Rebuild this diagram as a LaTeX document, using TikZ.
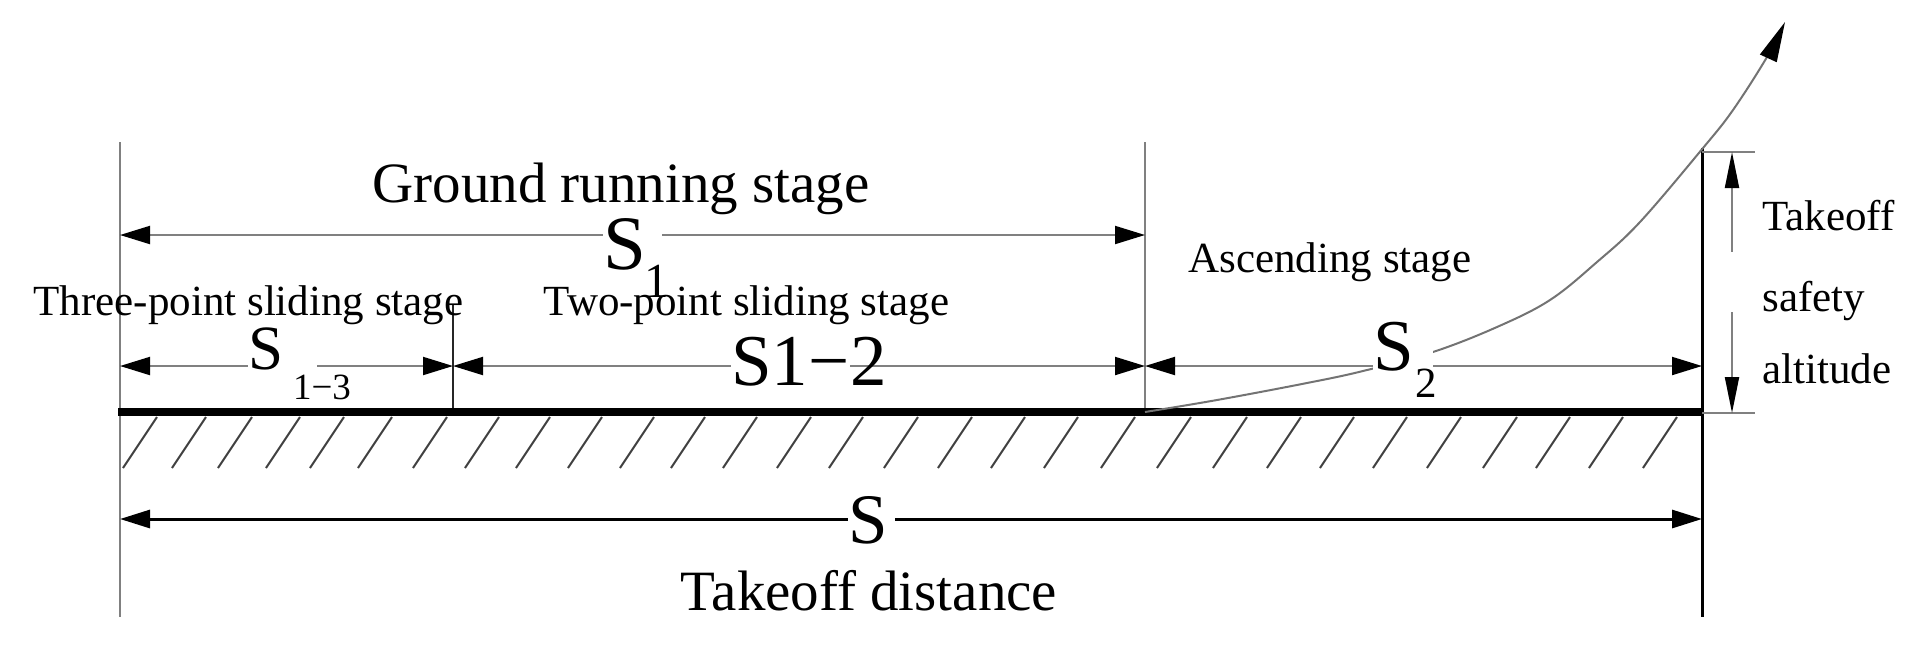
\documentclass[tikz,border=0pt]{standalone}
\usepackage{fontspec}
\setmainfont{Liberation Serif}
\newfontfamily\tnr{Liberation Serif}
\usetikzlibrary{arrows.meta}
\begin{document}
\begin{tikzpicture}[x=0.5pt,y=-0.5pt,
  thingray/.style={draw=black!50,line width=1pt},
  dim/.style={draw=black!50,line width=1pt,
    {Triangle[length=15pt,width=9pt,color=black]}-{Triangle[length=15pt,width=9pt,color=black]}},
  lab/.style={fill=white,inner sep=0pt,anchor=base west},
  txt/.style={inner sep=0pt,anchor=base},
  hatchline/.style={draw=black!75,line width=1pt},
]
\useasboundingbox (0,0) rectangle (1929,650);

% reference points
\coordinate (L) at (120,142);  \coordinate (Lb) at (120,617);
\coordinate (M) at (1145,142); \coordinate (Mb) at (1145,412);
\coordinate (K) at (453,305);  \coordinate (Kb) at (453,412);
\coordinate (R) at (1702,148); \coordinate (Rb) at (1702,617);

% extension lines
\draw[thingray] (L) -- (Lb);
\draw[thingray] (M) -- (Mb);
\draw[draw=black!85,line width=1pt] (K) -- (Kb);
\draw[black,line width=1.5pt] (R) -- (Rb);

% hatching
\foreach \b in {123,172,218,266,310,358,413,465,516,568,620,671,723,777,829,884,938,991,1044,1101,1157,1213,1267,1320,1373,1427,1483,1536,1589,1643}
  \draw[hatchline] (\b,468) -- ({\b+34},417);

% ground
\draw[black,line width=4pt] (118,412) -- (1703,412);

% dimension lines
\draw[dim] (120,235) -- (1145,235);
\draw[dim] (120,366) -- (453,366);
\draw[dim] (453,366) -- (1145,366);
\draw[dim] (1145,366) -- (1702,366);
\draw[dim,draw=black,line width=1.5pt] (120,519) -- (1702,519);

% takeoff safety altitude dimension
\draw[thingray] (1702,152) -- (1755,152);
\draw[thingray] (1702,413) -- (1755,413);
\draw[draw=black!50,line width=1pt,{Triangle[length=18pt,width=7pt,color=black]}-] (1732,152) -- (1732,252);
\draw[draw=black!50,line width=1pt,-{Triangle[length=18pt,width=7pt,color=black]}] (1732,312) -- (1732,413);

% flight path
\draw[draw=black!55,line width=1pt,-{Triangle[length=20pt,width=9pt,color=black]}]
  plot[smooth,tension=0.6] coordinates {(1145,412) (1217,400) (1307,383) (1363,371) (1433,352) (1497,327) (1550,300) (1597,262) (1640,222) (1703,148) (1733,110) (1767,57) (1785,22)};

% dimension labels
\node[lab,font=\tnr\fontsize{38.5pt}{46pt}\selectfont] (s1) at (603,269) {S\kern8pt};
\node[txt,font=\tnr\fontsize{24.5pt}{30pt}\selectfont] (s1sub) at (657,297) {1};
\node[lab,font=\tnr\fontsize{31.5pt}{37pt}\selectfont] (s13) at (248,369) {S\kern17pt};
\node[txt,font=\tnr\fontsize{18.5pt}{22pt}\selectfont] (s13sub) at (322,399) {1−3};
\node[lab,font=\tnr\fontsize{36.5pt}{44pt}\selectfont] (s12) at (731,385) {S1−};
\node[inner sep=0pt,anchor=base west,font=\tnr\fontsize{36.5pt}{44pt}\selectfont] (s12b) at (s12.base east) {2};
\node[lab,font=\tnr\fontsize{36.5pt}{44pt}\selectfont] (s2) at (1373,370) {S\kern9.5pt};
\node[txt,font=\tnr\fontsize{21.5pt}{26pt}\selectfont] (s2sub) at (1426,397) {2};
\node[lab,font=\tnr\fontsize{35.5pt}{42pt}\selectfont] (s) at (848,543) {S\kern3.75pt};

% stage texts
\node[txt,font=\tnr\fontsize{28.5pt}{34pt}\selectfont] (ground) at (621,202) {Ground running stage};
\node[txt,font=\tnr\fontsize{21.5pt}{26pt}\selectfont] (three) at (248.5,315) {Three-point sliding stage};
\node[txt,font=\tnr\fontsize{21.5pt}{26pt}\selectfont] (two) at (746.5,315) {Two-point sliding stage};
\node[txt,font=\tnr\fontsize{21.5pt}{26pt}\selectfont] (asc) at (1330,272) {Ascending stage};
\node[txt,font=\tnr\fontsize{28.5pt}{34pt}\selectfont] (dist) at (869,610) {Takeoff distance};
\node[inner sep=0pt,anchor=base west,font=\tnr\fontsize{21.5pt}{26pt}\selectfont] (t1) at (1762,230) {Takeoff};
\node[inner sep=0pt,anchor=base west,font=\tnr\fontsize{21.5pt}{26pt}\selectfont] (t2) at (1762,311) {safety};
\node[inner sep=0pt,anchor=base west,font=\tnr\fontsize{21.5pt}{26pt}\selectfont] (t3) at (1762,383) {altitude};
\end{tikzpicture}
\end{document}
